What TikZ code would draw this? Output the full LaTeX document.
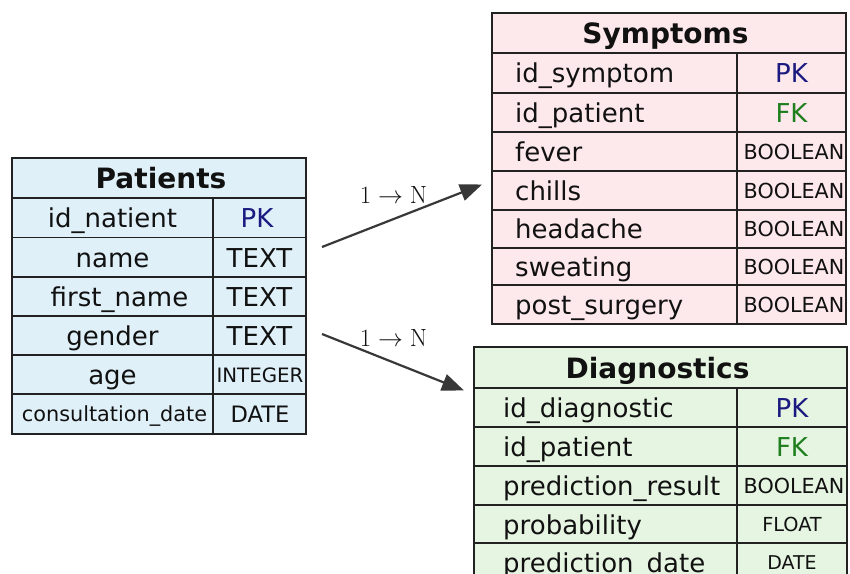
\documentclass[tikz,border=0pt]{standalone}
\usepackage[no-math]{fontspec}
\setmainfont{DejaVu Sans}
\usetikzlibrary{arrows.meta}
\definecolor{pbg}{HTML}{E0F0F8}
\definecolor{sbg}{HTML}{FDE8EC}
\definecolor{dbg}{HTML}{E6F4E2}
\definecolor{gridc}{HTML}{222222}
\definecolor{txt}{HTML}{111111}
\definecolor{pkc}{HTML}{1A1A80}
\definecolor{fkc}{HTML}{1F7F1F}
\definecolor{arrc}{HTML}{383838}
\begin{document}
\begin{tikzpicture}[x=1pt,y=-1pt,
  grid/.style={draw=gridc,line width=1.8pt},
  ttl/.style={font=\fontsize{28}{32}\selectfont\bfseries,text=txt,inner sep=0pt,anchor=base},
  fld/.style={font=\fontsize{26}{30}\selectfont,text=txt,inner sep=0pt,anchor=base},
  fldl/.style={fld,anchor=base west},
  typ/.style={font=\fontsize{26}{30}\selectfont,text=txt,inner sep=0pt,anchor=base},
  typs/.style={font=\fontsize{#1}{#1}\selectfont,text=txt,inner sep=0pt,anchor=base},
  pk/.style={typ,text=pkc},
  fk/.style={typ,text=fkc},
  card/.style={font=\fontsize{24}{28}\selectfont,text=txt,inner sep=0pt,anchor=base},
  rel/.style={draw=arrc,line width=2.2pt,-{Triangle[length=22pt,width=17pt]}}]
\useasboundingbox (0,0) rectangle (850,573);
\clip (0,0) rectangle (850,573);

% ---------------- Patients ----------------
\fill[pbg] (12,158) rectangle (306,434);
\foreach \yy in {198,237.5,277,316,355,394} \draw[grid] (12,\yy) -- (306,\yy);
\draw[grid] (213,198) -- (213,434);
\draw[grid] (12,158) rectangle (306,434);
\node[ttl] (pt) at (161,188) {Patients};
\node[fld] (p1) at (112.5,227.5) {id\_natient};
\node[pk]  (p1t) at (257,227.5) {PK};
\node[fld] (p2) at (112.5,267) {name};
\node[typ] (p2t) at (259.5,267) {TEXT};
\node[fld] (p3) at (119.5,306.5) {first\_name};
\node[typ] (p3t) at (259.5,306.5) {TEXT};
\node[fld] (p4) at (112.5,345) {gender};
\node[typ] (p4t) at (259.5,345) {TEXT};
\node[fld] (p5) at (112.5,384) {age};
\node[typs=19.8] (p5t) at (260,382) {INTEGER};
\node[typs=20.8] (p6) at (114.5,421.5) {consultation\_date};
\node[typs=22.6] (p6t) at (260,422) {DATE};

% ---------------- Symptoms ----------------
\fill[sbg] (492,13) rectangle (846,324);
\foreach \yy in {53,93,132,171,210,248,285} \draw[grid] (492,\yy) -- (846,\yy);
\draw[grid] (737,53) -- (737,324);
\draw[grid] (492,13) rectangle (846,324);
\node[ttl] (st) at (665.5,43) {Symptoms};
\node[fldl] (s1) at (515,82.5) {id\_symptom};
\node[pk]   (s1t) at (791.5,82.5) {PK};
\node[fldl] (s2) at (515,122) {id\_patient};
\node[fk]   (s2t) at (791.5,122) {FK};
\node[fldl] (s3) at (515,161) {fever};
\node[typs=20.7] (s3t) at (794,159) {BOOLEAN};
\node[fldl] (s4) at (515,200) {chills};
\node[typs=20.7] (s4t) at (794,198) {BOOLEAN};
\node[fldl] (s5) at (515,238.5) {headache};
\node[typs=20.7] (s5t) at (794,236.5) {BOOLEAN};
\node[fldl] (s6) at (515,276) {sweating};
\node[typs=20.7] (s6t) at (794,274) {BOOLEAN};
\node[fldl] (s7) at (515,314) {post\_surgery};
\node[typs=20.7] (s7t) at (794,312) {BOOLEAN};

% ---------------- Diagnostics ----------------
\fill[dbg] (474,347) rectangle (847,582);
\foreach \yy in {388,427,466,505,543} \draw[grid] (474,\yy) -- (847,\yy);
\draw[grid] (737,388) -- (737,582);
\draw[grid] (474,347) rectangle (847,582);
\node[ttl] (dt) at (657.5,378) {Diagnostics};
\node[fldl] (d1) at (503,417) {id\_diagnostic};
\node[pk]   (d1t) at (792,417) {PK};
\node[fldl] (d2) at (503,456) {id\_patient};
\node[fk]   (d2t) at (792,456) {FK};
\node[fldl] (d3) at (503,495) {prediction\_result};
\node[typs=20.7] (d3t) at (794,493) {BOOLEAN};
\node[fldl] (d4) at (503,534) {probability};
\node[typs=19.3] (d4t) at (792,531.5) {FLOAT};
\node[fldl] (d5) at (503,572) {prediction\_date};
\node[typs=19] (d5t) at (792,569.5) {DATE};

% ---------------- Relations ----------------
\coordinate (r1s) at (322,247);
\coordinate (r1e) at (482,184.5);
\coordinate (r2s) at (322,334);
\coordinate (r2e) at (464,390.5);
\draw[rel] (r1s) -- (r1e);
\draw[rel] (r2s) -- (r2e);
\node[card] (c1) at (393.5,203) {$1 \rightarrow \mathrm{N}$};
\node[card] (c2) at (393.5,346) {$1 \rightarrow \mathrm{N}$};
\end{tikzpicture}
\end{document}
